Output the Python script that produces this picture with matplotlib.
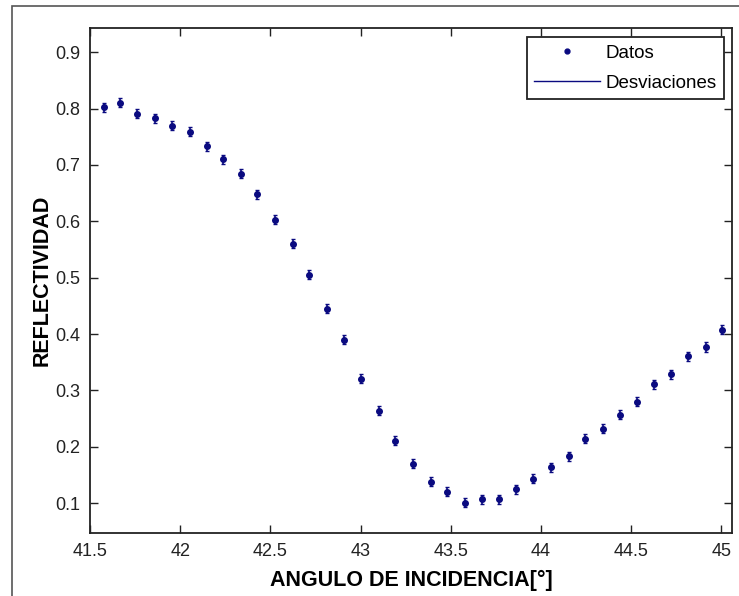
import matplotlib.pyplot as plt
from matplotlib.lines import Line2D

# datos
angulo = [41.575, 41.665, 41.763, 41.861, 41.952, 42.052, 42.148, 42.239, 42.337,
          42.428, 42.527, 42.624, 42.715, 42.813, 42.906, 43.004, 43.102, 43.194,
          43.290, 43.389, 43.480, 43.578, 43.676, 43.768, 43.865, 43.956, 44.054,
          44.154, 44.244, 44.343, 44.439, 44.532, 44.630, 44.722, 44.818, 44.917,
          45.006]
reflectividad = [0.802, 0.810, 0.791, 0.783, 0.770, 0.759, 0.733, 0.710, 0.684,
                 0.648, 0.603, 0.560, 0.505, 0.445, 0.390, 0.321, 0.264, 0.211,
                 0.170, 0.138, 0.120, 0.101, 0.107, 0.107, 0.125, 0.143, 0.164,
                 0.183, 0.214, 0.232, 0.257, 0.280, 0.311, 0.329, 0.361, 0.377,
                 0.408]
desviacion = [0.008] * len(angulo)

xticks = [41.5, 42, 42.5, 43, 43.5, 44, 44.5, 45]
yticks = [0.1, 0.2, 0.3, 0.4, 0.5, 0.6, 0.7, 0.8, 0.9]

plt.rcParams['font.family'] = ['Liberation Sans', 'DejaVu Sans']
color = '#0a0a80'

fig = plt.figure(figsize=(7.39, 5.96), dpi=100)
ax = fig.add_axes([90/739, 63/596, 642/739, 505/596])

ax.errorbar(angulo, reflectividad, yerr=desviacion, fmt='o', color=color,
            markersize=4, elinewidth=1.2, capsize=1.5, capthick=1)

ax.set_xlim(41.5, 45.06)
ax.set_ylim(0.047, 0.943)
ax.set_xticks(xticks)
ax.set_xticklabels(['41.5', '42', '42.5', '43', '43.5', '44', '44.5', '45'])
ax.set_yticks(yticks)
ax.set_yticklabels([str(v) for v in yticks])
ax.tick_params(direction='in', length=6, width=1, top=True, right=True,
               labelsize=13, pad=7, colors='#222222')
for s in ax.spines.values():
    s.set_linewidth(1.3)
    s.set_color('#222222')

ax.set_xlabel('ANGULO DE INCIDENCIA[°]', fontsize=15.5, fontweight='bold', labelpad=7)
ax.set_ylabel('REFLECTIVIDAD', fontsize=15.5, fontweight='bold', labelpad=2)

handles = [Line2D([], [], marker='o', markersize=3.5, linestyle='none', color=color),
           Line2D([], [], color=color, linewidth=1)]
leg = ax.legend(handles, ['Datos', 'Desviaciones'], loc='upper right',
                bbox_to_anchor=(0.9875, 0.982), borderaxespad=0, fontsize=13.5,
                fancybox=False, framealpha=1, edgecolor='#222222',
                handlelength=3.5, handletextpad=0.3, borderpad=0.4,
                labelspacing=0.7, handleheight=0.7)
leg.get_frame().set_linewidth(1.3)

# marco exterior de la figura
fig.patches.append(plt.Rectangle((12/739, -0.1), 2, 0.99 + 0.1, transform=fig.transFigure,
                                 fill=False, edgecolor='#555555', linewidth=1.2))

plt.savefig('out.png', dpi=100)
